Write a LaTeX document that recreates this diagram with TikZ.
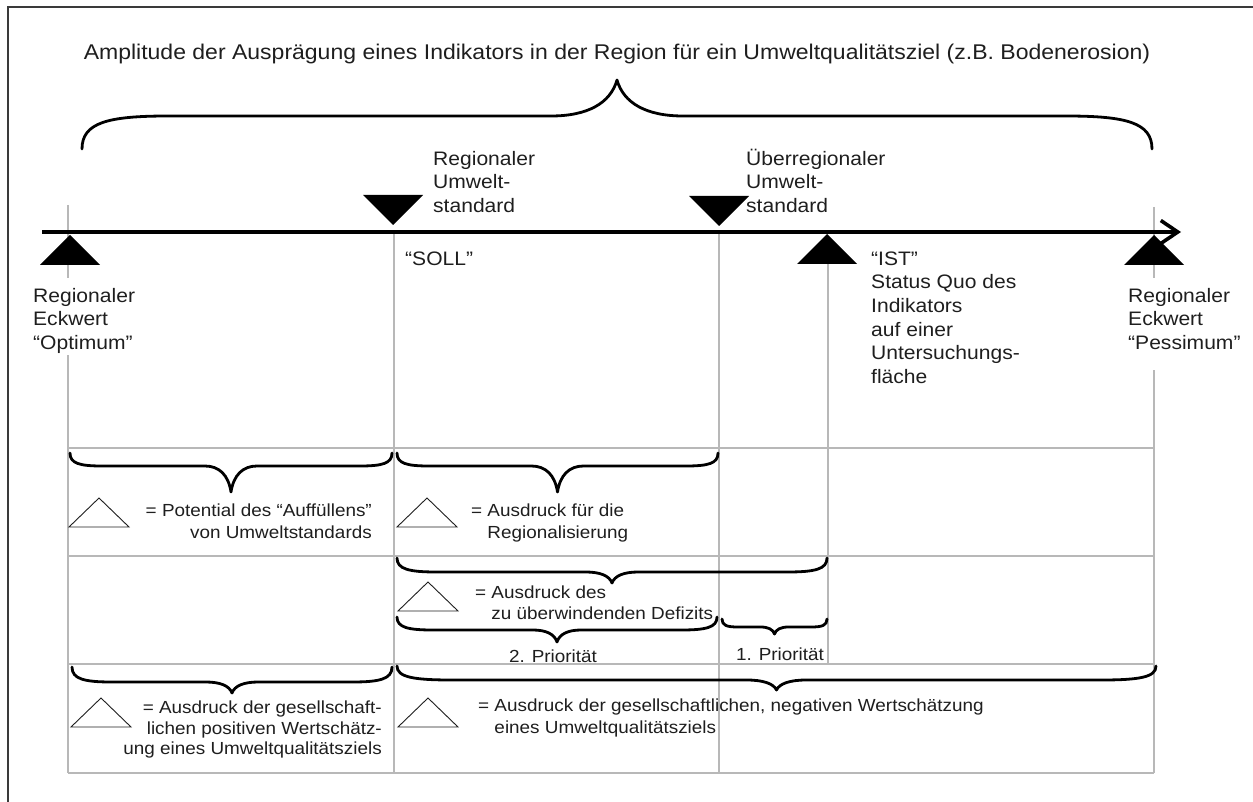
\documentclass[tikz,border=0pt]{standalone}
\usepackage{fontspec}
\setmainfont{Liberation Sans}[FakeStretch=1.08]
\usetikzlibrary{arrows.meta,calc}
\definecolor{ink}{HTML}{1E1E1E}
\definecolor{gridgray}{HTML}{B8B8B8}
\definecolor{framegray}{HTML}{3A3A3A}
% invisible strut: fixes the top of every text block one em above its first baseline
\newcommand\capline{\rule{0pt}{1em}}

\begin{document}
\begin{tikzpicture}[x=1pt,y=-1pt,
  headline/.style={inner sep=0pt,text=ink,font=\fontsize{21.3}{25}\selectfont},
  tag/.style={inner sep=0pt,text=ink,align=left,font=\fontsize{19.5}{23.6}\selectfont},
  legendtxt/.style={inner sep=0pt,text=ink,font=\fontsize{17.5}{21.5}\selectfont},
  grid line/.style={draw=gridgray,line width=1.1pt},
  scale axis/.style={line width=3.6pt,-{Straight Barb[length=17pt,width=23pt]}},
  brace line/.style={draw=black,line width=2.8pt,line cap=round,line join=round},
  % curly brace between two end points:
  % #1 end-to-flat offset, #2 flat-to-tip offset (positive = upwards),
  % #3 horizontal run of the end bends, #4 horizontal run of the tip bends
  curly/.style n args={4}{to path={
    let \p1=(\tikztostart), \p2=(\tikztotarget),
        \n1={0.5*(\x1+\x2)}, \n2={#1}, \n3={(#1)+(#2)}, \n4={#3}, \n5={#4} in
    .. controls (\x1,{\y1+0.8*\n2*1pt}) and ({\x1+0.3*\n4*1pt},{\y1+\n2*1pt})
    .. ({\x1+\n4*1pt},{\y1+\n2*1pt})
    -- ({(\n1-\n5)*1pt},{\y1+\n2*1pt})
    .. controls ({(\n1-0.45*\n5)*1pt},{\y1+\n2*1pt})
            and ({(\n1-0.1*\n5)*1pt},{\y1+(\n2+0.35*(\n3-\n2))*1pt})
    .. ({\n1*1pt},{\y1+\n3*1pt})
    .. controls ({(\n1+0.1*\n5)*1pt},{\y1+(\n2+0.35*(\n3-\n2))*1pt})
            and ({(\n1+0.45*\n5)*1pt},{\y1+\n2*1pt})
    .. ({(\n1+\n5)*1pt},{\y1+\n2*1pt})
    -- ({\x2-\n4*1pt},{\y1+\n2*1pt})
    .. controls ({\x2-0.3*\n4*1pt},{\y1+\n2*1pt}) and (\x2,{\y1+0.8*\n2*1pt})
    .. (\x2,\y2)}},
  solidup/.pic={\fill[black] (0,0) -- (30,30) -- (-30,30) -- cycle;},
  soliddown/.pic={\fill[black] (0,0) -- (30,-30) -- (-30,-30) -- cycle;},
  hollowup/.pic={\draw[ink,line width=0.9pt,line join=miter] (0,0) -- (30,29) -- (-30,29) -- cycle;}
]
\useasboundingbox (0,0) rectangle (1253,802);

% frame (left and top edge)
\draw[framegray,line width=1.5pt] (8,802) -- (8,7) -- (1253,7);

% guide lines of the table
\draw[grid line] (68,205) -- (68,278);
\draw[grid line] (68,355) -- (68,773);
\draw[grid line] (394,232) -- (394,773);
\draw[grid line] (719,232) -- (719,773);
\draw[grid line] (828,262) -- (828,664);
\draw[grid line] (1154,207) -- (1154,278);
\draw[grid line] (1154,370) -- (1154,773);
\foreach \yy in {448,556,664,773}
  \draw[grid line] (68,\yy) -- (1154,\yy);

% value axis
\coordinate (axisstart) at (42,232);
\coordinate (axisend) at (1181,232);
\draw[scale axis] (axisstart) -- (axisend);

% markers on the axis
\pic at (70,235) {solidup};
\pic at (393,225) {soliddown};
\pic at (719,226) {soliddown};
\pic at (827,234) {solidup};
\pic at (1154,235) {solidup};

% braces
\draw[brace line] (82,149) to[curly={33}{36}{86}{66}] (1152,149);
\draw[brace line] (70,453) to[curly={-13}{-26}{32}{26}] (392,453);
\draw[brace line] (397,453) to[curly={-13}{-26}{32}{26}] (718,453);
\draw[brace line] (397,558) to[curly={-14}{-11}{40}{26}] (827,558);
\draw[brace line] (397,617) to[curly={-13}{-12}{36}{24}] (717,617);
\draw[brace line] (722,619) to[curly={-8}{-7}{16}{14}] (827,619);
\draw[brace line] (72,667) to[curly={-15}{-11}{40}{26}] (392,667);
\draw[brace line] (397,666) to[curly={-14}{-10}{55}{30}] (1156,666);

% delta signs of the legend
\pic at (99,498) {hollowup};
\pic at (427,498) {hollowup};
\pic at (428,582) {hollowup};
\pic at (101,698) {hollowup};
\pic at (428,698) {hollowup};

% texts
\node[headline,anchor=north] (title) at (617,38.3)
  {\capline Amplitude der Ausprägung eines Indikators in der Region für ein Umweltqualitätsziel (z.B. Bodenerosion)};
\node[tag,anchor=north west] (regstd) at (433,145.5) {\capline Regionaler\\Umwelt-\\standard};
\node[tag,anchor=north west] (uebstd) at (746,145.5) {\capline Überregionaler\\Umwelt-\\standard};
\node[tag,anchor=north west] (soll) at (405,245.5) {\capline “SOLL”};
\node[tag,anchor=north west] (ist) at (871,245.5)
  {\capline “IST”\\Status Quo des\\Indikators\\auf einer\\Untersuchungs-\\fläche};
\node[tag,anchor=north west] (optimum) at (33,282.5) {\capline Regionaler\\Eckwert\\“Optimum”};
\node[tag,anchor=north west] (pessimum) at (1128,282.5) {\capline Regionaler\\Eckwert\\“Pessimum”};

\node[legendtxt,align=right,anchor=north east] (potential) at (372,498.8)
  {\capline = Potential des “Auffüllens”\\von Umweltstandards};
\node[legendtxt,align=left,anchor=north west] (regionalisierung) at (471,498.8)
  {\capline = Ausdruck für die\\\hphantom{=\ }Regionalisierung};
\node[legendtxt,align=left,anchor=north west,font=\fontsize{17.5}{21}\selectfont] (defizit) at (475,580.8)
  {\capline = Ausdruck des\\\hphantom{=\ }zu überwindenden Defizits};
\node[legendtxt,anchor=north] (prio2) at (553,644.8) {\capline 2. Priorität};
\node[legendtxt,anchor=north] (prio1) at (780,642.8) {\capline 1. Priorität};
\node[legendtxt,align=right,anchor=north east,font=\fontsize{17.5}{20.5}\selectfont] (positiv) at (382,695.8)
  {\capline = Ausdruck der gesellschaft-\\lichen positiven Wertschätz-\\ung eines Umweltqualitätsziels};
\node[legendtxt,align=left,anchor=north west,font=\fontsize{17.5}{22}\selectfont] (negativ) at (478,693.8)
  {\capline = Ausdruck der gesellschaftlichen, negativen Wertschätzung\\\hphantom{=\ }eines Umweltqualitätsziels};
\end{tikzpicture}
\end{document}
